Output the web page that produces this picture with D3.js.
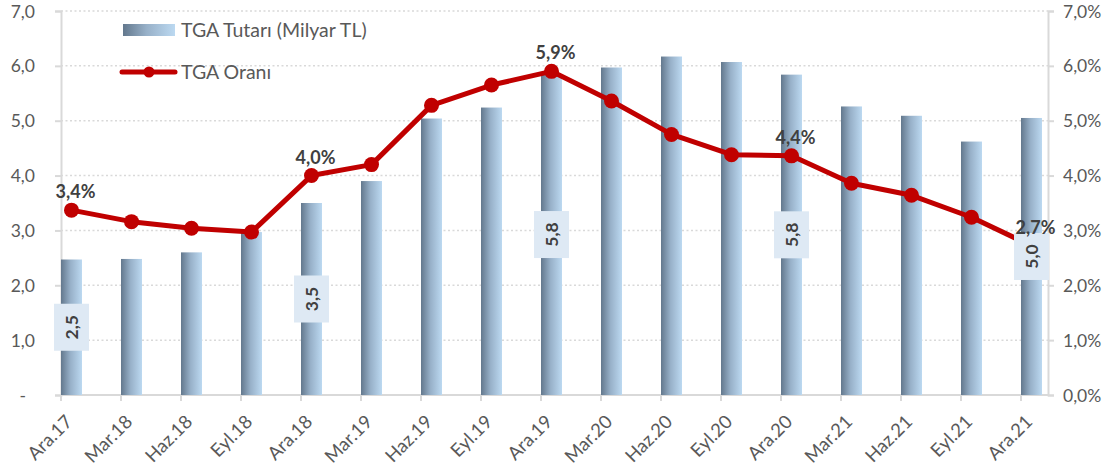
<!DOCTYPE html>
<html>
<head>
<meta charset="utf-8">
<script src="https://cdn.jsdelivr.net/npm/d3@7"></script>
<style>
  body { margin: 0; background: #fff; }
  text { font-family: Lato, "Open Sans", sans-serif; }
</style>
</head>
<body>
<div id="chart"></div>
<script>
// kategoriler ve seriler - categories and series
var donemler = ['Ara.17', 'Mar.18', 'Haz.18', 'Eyl.18', 'Ara.18', 'Mar.19', 'Haz.19', 'Eyl.19', 'Ara.19',
    'Mar.20', 'Haz.20', 'Eyl.20', 'Ara.20', 'Mar.21', 'Haz.21', 'Eyl.21', 'Ara.21'];
var tutar = [2.47, 2.48, 2.6, 2.97, 3.5, 3.9, 5.04, 5.24, 5.85, 5.97, 6.17, 6.07, 5.84, 5.26, 5.09, 4.62, 5.05];
var oran = [3.37, 3.16, 3.04, 2.97, 4.0, 4.2, 5.28, 5.65, 5.9, 5.36, 4.75, 4.38, 4.36, 3.86, 3.64, 3.24, 2.72];
var solTicks = ['-', '1,0', '2,0', '3,0', '4,0', '5,0', '6,0', '7,0'];
var sagTicks = ['0,0%', '1,0%', '2,0%', '3,0%', '4,0%', '5,0%', '6,0%', '7,0%'];
// etiketli noktalar - labelled points
var barEtiket = [0, 4, 8, 12, 16];
var oranEtiket = [0, 4, 8, 12, 16];

var W = 1118, H = 475;
var pLeft = 61, pRight = 1048, pTop = 11, pBottom = 395;
var barW = 21;
var gri = '#d9d9d9', yazi = '#595959';

var svg = d3.select('#chart')
    .append('svg')
    .attr('width', W)
    .attr('height', H)
    ;

var grad = svg.append('defs')
    .append('linearGradient')
    .attr('id', 'barGrad')
    .attr('x1', '0%').attr('x2', '100%')
    .attr('y1', '0%').attr('y2', '0%')
    ;
grad.append('stop').attr('offset', '0%').attr('stop-color', '#63788d');
grad.append('stop').attr('offset', '45%').attr('stop-color', '#97b0c8');
grad.append('stop').attr('offset', '100%').attr('stop-color', '#bcd9f1');

var x = d3.scalePoint()
    .domain(donemler)
    .range([pLeft + barW / 2, pLeft + barW / 2 + 60 * (donemler.length - 1)])
    ;

var y = d3.scaleLinear().domain([0, 7]).range([pBottom, pTop]);
var y2 = d3.scaleLinear().domain([0, 7]).range([pBottom, pTop]);

// grid
svg.append('g')
    .selectAll('line')
    .data(d3.range(1, 8))
    .enter()
    .append('line')
    .attr('x1', pLeft)
    .attr('x2', pRight)
    .attr('y1', function(d) { return y(d); })
    .attr('y2', function(d) { return y(d); })
    .attr('stroke', gri)
    .attr('stroke-width', 1.5)
    .attr('stroke-dasharray', '2,2.5')
    ;

// sol eksen - left axis
var solAxis = d3.axisLeft(y)
    .tickValues(d3.range(0, 8))
    .tickFormat(function(d) { return solTicks[d]; })
    .tickSize(6)
    .tickPadding(20)
    ;
var gl = svg.append('g')
    .attr('transform', 'translate(' + pLeft + ',0)')
    .call(solAxis)
    ;
gl.select('.domain').attr('stroke', gri).attr('stroke-width', 2);
gl.selectAll('.tick line').attr('stroke', gri).attr('stroke-width', 2);
gl.selectAll('.tick text')
    .attr('fill', yazi)
    .style('font-size', '17.5px')
    .style('font-family', 'Lato, sans-serif')
    .attr('dy', '0.35em')
    ;
gl.selectAll('.tick text')
    .filter(function(d) { return d === 0; })
    .attr('dx', -9)
    ;

// sag eksen - right axis
var sagAxis = d3.axisRight(y2)
    .tickValues(d3.range(0, 8))
    .tickFormat(function(d) { return sagTicks[d]; })
    .tickSize(6)
    .tickPadding(9)
    ;
var gr = svg.append('g')
    .attr('transform', 'translate(' + pRight + ',0)')
    .call(sagAxis)
    ;
gr.select('.domain').attr('stroke', gri).attr('stroke-width', 2);
gr.selectAll('.tick line').attr('stroke', gri).attr('stroke-width', 2);
gr.selectAll('.tick text')
    .attr('fill', yazi)
    .style('font-size', '17.5px')
    .style('font-family', 'Lato, sans-serif')
    .attr('dy', '0.35em')
    ;

// alt eksen - bottom axis
svg.append('line')
    .attr('x1', pLeft).attr('x2', pRight)
    .attr('y1', pBottom).attr('y2', pBottom)
    .attr('stroke', gri)
    .attr('stroke-width', 2)
    ;
svg.append('g')
    .selectAll('line')
    .data(donemler)
    .enter()
    .append('line')
    .attr('x1', function(d) { return x(d) - barW / 2; })
    .attr('x2', function(d) { return x(d) - barW / 2; })
    .attr('y1', pBottom)
    .attr('y2', pBottom + 6)
    .attr('stroke', gri)
    .attr('stroke-width', 2)
    ;
svg.append('g')
    .selectAll('text')
    .data(donemler)
    .enter()
    .append('text')
    .text(function(d) { return d; })
    .attr('text-anchor', 'end')
    .attr('fill', yazi)
    .style('font-size', '18.5px')
    .attr('transform', function(d) { return 'translate(' + (x(d) + 2) + ',' + (pBottom + 28) + ') rotate(-45)'; })
    ;

// sutunlar - bars
svg.append('g')
    .selectAll('rect')
    .data(tutar)
    .enter()
    .append('rect')
    .attr('x', function(d, i) { return x(donemler[i]) - barW / 2; })
    .attr('y', function(d) { return y(d); })
    .attr('width', barW)
    .attr('height', function(d) { return pBottom - y(d); })
    .attr('fill', 'url(#barGrad)')
    ;

// cizgi - line
var line = d3.line()
    .x(function(d, i) { return x(donemler[i]); })
    .y(function(d) { return y2(d); })
    ;
svg.append('path')
    .datum(oran)
    .attr('d', line)
    .attr('fill', 'none')
    .attr('stroke', '#c00000')
    .attr('stroke-width', 5)
    .attr('stroke-linejoin', 'round')
    ;
svg.append('g')
    .selectAll('circle')
    .data(oran)
    .enter()
    .append('circle')
    .attr('cx', function(d, i) { return x(donemler[i]); })
    .attr('cy', function(d) { return y2(d); })
    .attr('r', 7.5)
    .attr('fill', '#c00000')
    ;

// sutun etiketleri - bar labels
var be = svg.append('g')
    .selectAll('g')
    .data(barEtiket)
    .enter()
    .append('g')
    .attr('transform', function(i) {
        return 'translate(' + x(donemler[i]) + ',' + (y(tutar[i]) + (pBottom - y(tutar[i])) / 2) + ')';
    })
    ;
be.append('rect')
    .attr('x', -17.5)
    .attr('y', -23.5)
    .attr('width', 35)
    .attr('height', 47)
    .attr('fill', '#dee9f4')
    ;
be.append('text')
    .text(function(i) { return tutar[i].toFixed(1).replace('.', ','); })
    .attr('transform', 'rotate(-90)')
    .attr('text-anchor', 'middle')
    .attr('dy', '0.36em')
    .attr('fill', '#404040')
    .style('font-size', '17.5px')
    .style('font-weight', 'bold')
    ;

// oran etiketleri - line labels
svg.append('g')
    .selectAll('text')
    .data(oranEtiket)
    .enter()
    .append('text')
    .text(function(i) { return (Math.floor(oran[i] * 10 + 0.5) / 10).toFixed(1).replace('.', ',') + '%'; })
    .attr('x', function(i) { return x(donemler[i]) + 4; })
    .attr('y', function(i) { return y2(oran[i]) - 12; })
    .attr('text-anchor', 'middle')
    .attr('fill', '#404040')
    .style('font-size', '18px')
    .style('font-weight', 'bold')
    ;

// lejant - legend
svg.append('rect')
    .attr('x', 123).attr('y', 24)
    .attr('width', 52).attr('height', 12)
    .attr('fill', 'url(#barGrad)')
    ;
svg.append('text')
    .text('TGA Tutarı (Milyar TL)')
    .attr('x', 181).attr('y', 37)
    .attr('fill', yazi)
    .style('font-size', '19.5px')
    ;
svg.append('line')
    .attr('x1', 122).attr('x2', 175)
    .attr('y1', 72).attr('y2', 72)
    .attr('stroke', '#c00000')
    .attr('stroke-width', 5)
    .attr('stroke-linecap', 'round')
    ;
svg.append('circle')
    .attr('cx', 149).attr('cy', 72)
    .attr('r', 5.5)
    .attr('fill', '#c00000')
    ;
svg.append('text')
    .text('TGA Oranı')
    .attr('x', 181).attr('y', 79)
    .attr('fill', yazi)
    .style('font-size', '19.5px')
    ;
</script>
</body>
</html>
